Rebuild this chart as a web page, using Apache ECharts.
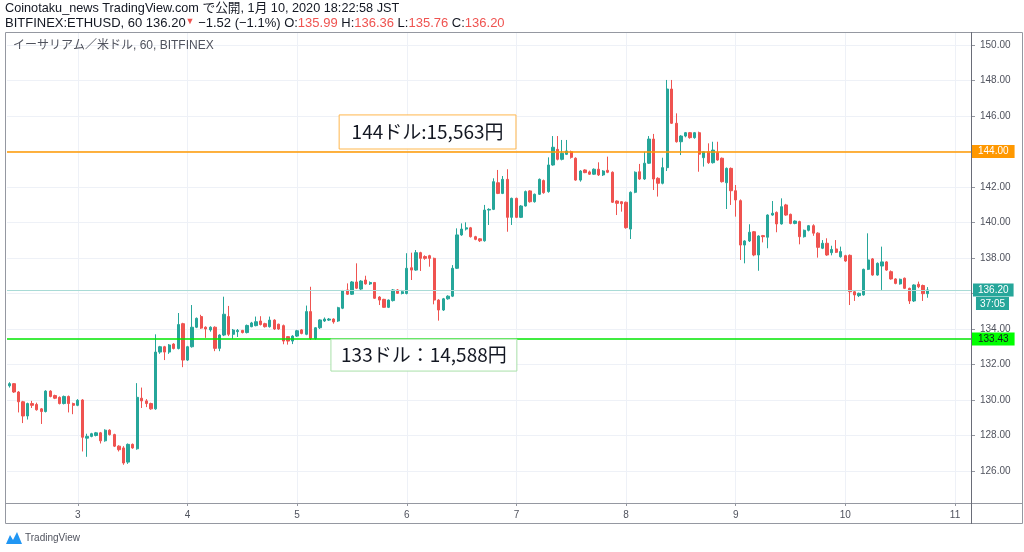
<!DOCTYPE html>
<html>
<head>
<meta charset="utf-8">
<script src="https://cdn.jsdelivr.net/npm/echarts@6/dist/echarts.min.js"></script>
<style>html,body{margin:0;padding:0;background:#fff}#c{width:1024px;height:552px}</style>
</head>
<body>
<div id="c"></div>
<script>
// ---------- DATA ----------
// hourly candles [open, close, low, high], from 1/2 09:00 to 1/10 18:00 (JST)
const candles = [
  [130.80,130.92,130.70,131.00],[130.92,130.45,130.40,130.95],[130.45,129.90,129.30,130.50],[129.90,129.10,128.70,129.95],
  [129.10,129.80,128.90,129.85],[129.80,129.70,129.55,129.95],[129.75,129.45,129.40,129.85],[129.50,129.35,128.65,129.55],
  [129.35,130.50,129.30,130.55],[130.50,130.20,130.15,130.55],[130.25,130.10,130.05,130.30],[130.15,129.80,129.75,130.20],
  [129.80,130.20,129.75,130.25],[130.20,129.80,129.30,130.25],[129.80,129.70,129.20,129.85],[129.70,129.98,129.65,130.05],
  [130.00,127.90,127.10,130.05],[127.85,127.95,126.80,128.10],[127.95,128.10,127.90,128.15],[128.00,128.15,127.95,128.20],
  [128.15,127.70,127.55,128.20],[127.70,128.30,127.65,128.35],[128.30,128.05,128.00,128.35],[128.05,127.40,127.35,128.10],
  [127.40,127.20,127.10,127.45],[127.30,126.45,126.35,127.40],
  [126.50,127.50,126.40,127.55],[127.50,127.30,127.25,127.55],[127.25,130.15,127.20,130.95],[130.10,129.95,129.55,130.70],
  [129.95,129.80,129.60,130.05],[129.80,129.50,129.45,129.85],[129.50,132.70,129.45,133.70],[132.70,133.00,132.60,133.05],
  [133.00,132.70,132.25,133.05],[132.70,133.10,132.60,133.15],[133.15,132.90,132.85,133.20],[132.90,134.25,132.85,134.90],
  [134.30,132.25,131.85,134.35],[132.25,133.00,132.20,133.05],[133.00,134.10,132.95,135.35],[134.10,134.60,134.05,134.65],
  [134.70,134.05,134.00,134.80],[134.10,134.00,133.50,134.15],[133.95,134.10,133.85,134.15],[134.10,132.91,132.75,134.15],
  [132.91,133.66,132.75,133.70],[133.66,134.83,133.60,135.82],[134.70,133.70,133.60,135.30],[133.70,133.94,133.45,134.00],
  [133.85,133.92,133.55,134.00],
  [133.92,133.80,133.75,133.95],[133.80,134.20,133.75,134.25],[134.13,134.34,134.10,134.40],[134.19,134.41,134.15,134.70],
  [134.45,134.25,134.20,134.72],[134.30,134.13,134.08,134.35],[134.13,134.50,134.08,134.70],[134.50,134.00,133.95,134.55],
  [134.27,134.00,133.95,134.30],[134.19,133.32,133.14,134.25],[133.57,133.32,133.12,133.60],[133.32,133.60,133.15,133.65],
  [133.60,133.90,133.55,133.95],[133.95,133.75,133.70,134.00],[133.70,134.98,133.65,135.32],[134.98,133.47,133.38,136.38],
  [133.47,134.07,133.40,134.10],[134.07,134.51,134.00,134.55],[134.45,134.56,134.40,134.65],[134.50,134.56,134.45,134.62],
  [134.56,134.40,134.30,134.60],[134.45,135.20,134.40,135.25],[135.17,136.14,135.12,136.20],[136.20,135.96,135.92,136.57],
  [135.96,136.65,135.92,136.70],[136.65,136.30,136.25,137.70],
  [136.25,136.70,136.20,136.75],[136.76,136.54,136.50,137.00],[136.54,136.62,136.48,136.68],[136.62,135.73,135.70,136.65],
  [135.80,135.63,135.35,135.85],[135.67,135.22,135.20,135.70],[135.22,135.63,135.18,135.66],[135.60,136.20,135.55,136.25],
  [136.20,136.01,135.98,136.25],[136.00,136.10,135.95,136.20],[136.00,137.42,135.95,138.27],[137.45,137.32,136.76,138.30],
  [137.32,138.30,137.28,138.45],[138.30,137.98,137.27,138.35],[138.08,137.98,137.90,138.15],[138.13,137.98,137.51,138.18],
  [137.98,135.63,135.39,138.02],[135.63,135.07,134.47,135.68],[135.07,135.70,135.02,135.75],[135.70,135.85,135.65,135.90],
  [135.85,137.42,135.80,137.60],[137.42,139.30,137.38,139.67],[139.30,139.63,139.25,139.95],[139.63,139.70,139.55,140.01],
  [139.70,139.20,139.15,139.75],
  [139.20,139.05,139.00,139.25],[139.08,138.97,138.90,139.12],[138.97,140.70,138.92,140.99],[140.70,140.74,139.86,140.80],
  [140.74,142.30,140.70,142.49],[142.24,141.64,141.60,142.96],[141.64,142.43,141.60,142.62],[142.43,140.29,139.48,143.00],
  [140.29,141.36,139.86,141.40],[141.36,140.29,140.25,141.40],[140.29,140.93,140.25,140.98],[140.93,141.74,140.90,141.80],
  [141.78,141.17,141.12,141.82],[141.17,141.59,141.12,141.63],[141.59,142.43,141.55,142.48],[142.36,141.68,141.62,142.42],
  [141.74,143.24,141.68,143.67],[143.24,144.24,143.20,144.87],[144.12,143.56,143.50,144.87],[143.56,143.90,143.50,144.65],
  [143.84,144.03,143.80,144.65],[143.99,143.67,143.60,144.05],[143.62,142.39,142.35,143.67],[142.39,142.90,142.30,142.95],
  [142.96,142.81,142.78,143.00],
  [142.85,142.72,142.68,142.92],[142.72,143.00,142.68,143.05],[143.00,142.68,142.62,143.39],[142.68,142.90,142.62,142.95],
  [142.94,142.83,142.78,143.71],[142.83,141.14,141.10,142.88],[141.21,141.08,140.42,141.25],[141.17,141.06,140.61,141.20],
  [141.14,139.71,139.65,141.18],[139.63,141.70,139.07,141.75],[141.70,142.83,141.65,142.88],[142.86,142.45,142.40,143.30],
  [142.45,143.34,142.40,143.99],[143.34,144.70,143.30,144.87],[144.70,142.45,141.83,144.99],[142.49,142.21,141.46,142.55],
  [142.21,143.09,142.15,143.65],[143.09,147.52,142.90,148.03],[147.52,145.59,145.55,148.03],[145.59,144.55,144.50,146.15],
  [144.55,144.87,143.80,144.92],[144.87,145.06,144.80,145.10],[145.06,144.78,144.72,145.10],[144.78,145.06,144.72,145.10],
  [145.06,143.85,142.86,145.12],
  [143.65,143.98,143.15,144.02],[143.99,143.37,143.30,144.46],[143.37,144.08,143.32,144.55],[143.95,143.52,143.48,144.55],
  [143.62,142.30,142.25,143.66],[142.24,143.05,140.76,143.10],[143.05,141.79,140.99,143.10],[141.79,141.27,140.33,142.11],
  [141.23,138.73,137.89,141.30],[138.73,138.96,137.70,139.00],[138.96,139.45,138.90,139.90],[139.48,138.17,138.10,139.52],
  [138.17,139.24,137.28,139.28],[139.26,139.20,138.88,139.30],[139.17,140.42,138.55,140.46],[140.42,140.52,140.38,141.21],
  [140.57,139.92,139.45,140.62],[139.92,140.89,139.88,141.36],[140.99,140.42,140.38,141.05],[140.46,139.95,139.90,140.50],
  [139.95,140.08,139.90,140.12],[140.05,139.20,138.77,140.10],[139.20,139.56,139.15,139.60],[139.56,139.82,139.50,139.86],
  [139.82,139.40,139.25,139.90],[139.40,138.60,138.02,139.45],[138.55,138.83,138.50,139.01],[138.83,138.17,138.12,139.11],
  [138.30,138.48,138.15,138.69],[138.51,138.32,138.28,139.01],[138.07,138.36,138.02,138.64],[138.13,137.83,137.78,138.18],
  [138.15,136.10,135.35,138.20],[136.10,135.92,135.58,136.15],[135.88,136.01,135.80,136.05],[135.92,137.36,135.88,137.40],
  [137.36,137.89,137.32,139.39],[137.95,137.04,137.00,138.00],[137.04,137.70,137.00,137.75],[137.55,137.78,136.20,138.64],
  [137.78,137.32,137.28,137.82],[137.23,136.82,136.78,137.30],[136.82,136.57,136.52,136.86],[136.54,136.80,136.50,136.84],
  [136.86,136.29,136.25,136.90],[136.29,135.58,135.41,136.33],[135.58,136.48,135.52,136.52],[136.52,136.38,136.30,136.67],
  [136.45,135.99,135.58,136.50],[135.99,136.20,135.76,136.36]
];
const startDay = 2, startHour = 9, totalSlots = 211; // hourly slots incl. empty space right of last candle
const priceTicks = [126,128,130,132,134,136,138,140,142,144,146,148,150];
const levelOrange = 144.00;
const levelGreen = 133.43;
const lastClose = 136.20;
const countdown = '37:05';
const noteTexts = ['144ドル:15,563円', '133ドル：14,588円'];
const titleLine1 = 'Coinotaku_news TradingView.com で公開, 1月 10, 2020 18:22:58 JST';
const symbolLabel = 'イーサリアム／米ドル, 60, BITFINEX';

// hourly category axis
const categories = [];
for (let k = 0; k < totalSlots; k++) {
  const t = startHour + k;
  categories.push((startDay + Math.floor(t / 24)) + ' ' + String(t % 24).padStart(2, '0') + ':00');
}
const isDayStart = (i, v) => v.endsWith(' 00:00');
const dayStarts = categories.filter(v => v.endsWith(' 00:00'));

// ---------- CHART ----------
const UP = '#26a69a', DOWN = '#ef5350', AXIS = '#9598a1', GRIDC = '#eef1f7', TXT = '#131722';
const FONT = '"Liberation Sans","Noto Sans CJK JP",sans-serif';
const JFONT = '"Noto Sans CJK JP","Liberation Sans",sans-serif';
const G = {left: 7, right: 53, top: 33, bottom: 49};
const chart = echarts.init(document.getElementById('c'));

const option = {
  animation: false,
  textStyle: {fontFamily: FONT},
  grid: {left: G.left, right: G.right, top: G.top, bottom: G.bottom},
  xAxis: {
    type: 'category', data: categories, boundaryGap: true,
    axisLine: {show: false},
    axisTick: {show: true, interval: isDayStart, alignWithLabel: true, length: 3, lineStyle: {color: AXIS}},
    axisLabel: {interval: isDayStart, formatter: v => v.split(' ')[0], color: '#50535e', fontSize: 10, margin: 7, fontFamily: FONT},
    splitLine: {show: false}
  },
  yAxis: {
    type: 'value', position: 'right', min: 124.197, max: 150.676,
    axisLine: {show: false},
    axisTick: {show: true, customValues: priceTicks, length: 4, lineStyle: {color: AXIS}},
    axisLabel: {customValues: priceTicks, formatter: v => v.toFixed(2), color: '#50535e', fontSize: 10, margin: 9, fontFamily: FONT},
    splitLine: {show: false}
  },
  series: [
    {
      type: 'line', data: [], z: 0, silent: true,
      markLine: {
        z: 0, silent: true, symbol: ['none', 'none'], label: {show: false},
        lineStyle: {color: GRIDC, width: 1, type: 'solid'},
        data: priceTicks.map(p => ({yAxis: p})).concat(dayStarts.map(d => ({xAxis: d})))
      }
    },
    {
      type: 'candlestick', data: candles, z: 3, barWidth: 2.8,
      itemStyle: {color: UP, color0: DOWN, borderColor: UP, borderColor0: DOWN, borderWidth: 1},
      markLine: {
        silent: true, symbol: ['none', 'none'],
        data: [
          {yAxis: lastClose, lineStyle: {color: '#a9dbd6', width: 1, type: 'solid'},
           label: {show: true, position: 'end', distance: 2, formatter: lastClose.toFixed(2), color: '#fff',
                   backgroundColor: UP, padding: [2, 5, 1, 5], fontSize: 10, fontFamily: FONT}},
          {yAxis: levelOrange, lineStyle: {color: '#ff9800', width: 1.5, type: 'solid'},
           label: {show: true, position: 'end', distance: 1, formatter: levelOrange.toFixed(2), color: '#fff',
                   backgroundColor: '#ff9800', padding: [2, 6, 1, 6], fontSize: 10, fontFamily: FONT}},
          {yAxis: levelGreen, lineStyle: {color: '#00e600', width: 1.5, type: 'solid'},
           label: {show: true, position: 'end', distance: 1, formatter: levelGreen.toFixed(2), color: '#131722',
                   backgroundColor: '#00ff00', padding: [2, 6, 1, 6], fontSize: 10, fontFamily: FONT}}
        ]
      }
    }
  ]
};
chart.setOption(option);

// ---------- overlay graphics (frame, header, notes) ----------
const W = 1024, H = 552;
const plotRight = W - G.right, plotBottom = H - G.bottom;
const yPx = p => chart.convertToPixel({yAxisIndex: 0}, p);
const xPx = idx => {
  const i0 = Math.floor(idx);
  const a = chart.convertToPixel({xAxisIndex: 0}, categories[i0]);
  const b = chart.convertToPixel({xAxisIndex: 0}, categories[i0 + 1]);
  return a + (b - a) * (idx - i0);
};
const note = (text, x0, x1, p0, p1, border) => {
  const xa = xPx(x0), xb = xPx(x1), ya = yPx(p0), yb = yPx(p1);
  return [
    {type: 'rect', z: 50, shape: {x: xa, y: ya, width: xb - xa, height: yb - ya},
     style: {fill: 'rgba(255,255,255,0.92)', stroke: border, lineWidth: 1}},
    {type: 'text', z: 51, x: (xa + xb) / 2, y: (ya + yb) / 2,
     style: {text: text, align: 'center', verticalAlign: 'middle', fill: TXT, font: '19px ' + JFONT}}
  ];
};
const yLast = yPx(lastClose);
const red = '#ef5350';
const graphics = [
  // frame
  {type: 'rect', z: 40, shape: {x: 5.5, y: 32.5, width: W - 7, height: 491}, style: {fill: 'none', stroke: AXIS, lineWidth: 1}},
  {type: 'line', z: 40, shape: {x1: 5, y1: plotBottom + 0.5, x2: W - 1, y2: plotBottom + 0.5}, style: {stroke: AXIS, lineWidth: 1}},
  {type: 'line', z: 40, shape: {x1: plotRight + 0.5, y1: 32, x2: plotRight + 0.5, y2: 524}, style: {stroke: '#6a6d78', lineWidth: 1}},
  // header
  {type: 'text', z: 60, x: 5, y: 2, style: {text: titleLine1, fill: TXT, font: '12.7px ' + FONT}},
  {type: 'text', z: 60, x: 5, y: 17, style: {
    text: 'BITFINEX:ETHUSD, 60 136.20{t|▼} −1.52 (−1.1%) O:{r|135.99} H:{r|136.36} L:{r|135.76} C:{r|136.20}',
    fill: TXT, font: '13px ' + FONT,
    rich: {r: {fill: red, font: '13px ' + FONT}, t: {fill: red, font: '9px ' + FONT, verticalAlign: 'top'}}
  }},
  {type: 'text', z: 60, x: 13, y: 40, style: {text: symbolLabel, fill: '#50535e', font: '12px ' + FONT}},
  // countdown under last price
  {type: 'text', z: 60, x: 1009, y: yLast + 7, style: {text: countdown, align: 'right', verticalAlign: 'top',
    fill: '#fff', backgroundColor: UP, padding: [2, 4, 1, 4], font: '10px ' + FONT}},
  // footer logo
  {type: 'polygon', z: 60, shape: {points: [[6, 544], [10, 535], [13, 540], [17, 532], [22, 544]]}, style: {fill: '#2196f3'}},
  {type: 'text', z: 60, x: 25, y: 533, style: {text: 'TradingView', fill: '#50535e', font: '10px ' + FONT}}
]
  .concat(note(noteTexts[0], 72.2, 110.9, 146.06, 144.14, '#ffb74d'))
  .concat(note(noteTexts[1], 70.4, 111.1, levelGreen, 131.63, '#a8e0a8'));
chart.setOption({graphic: graphics});
</script>
</body>
</html>
